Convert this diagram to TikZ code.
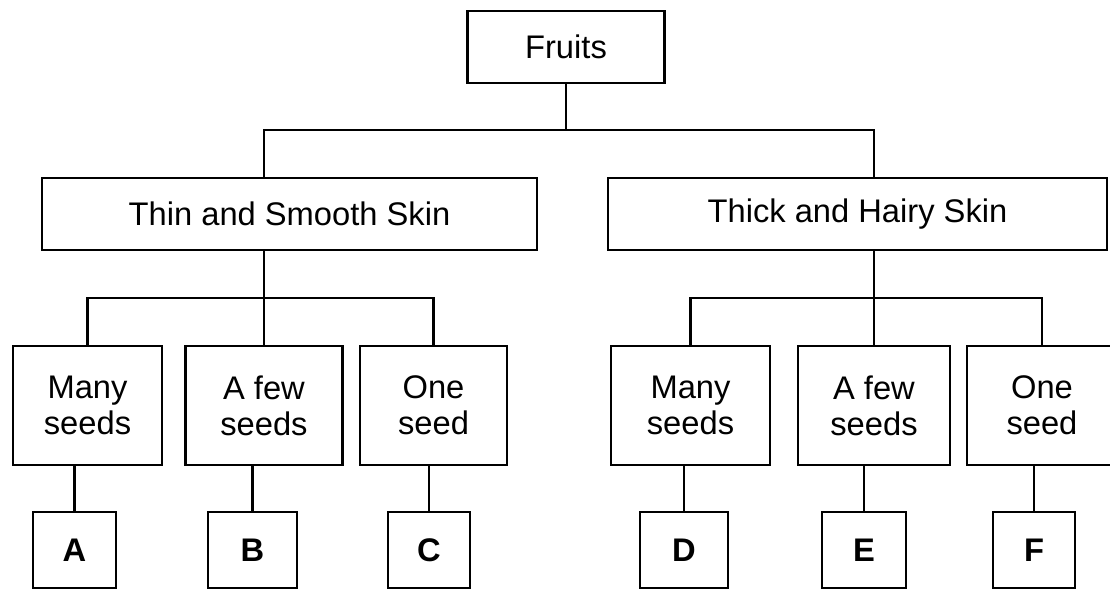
\documentclass[tikz,border=0pt]{standalone}
\usepackage{fontspec}
\setmainfont{Liberation Sans}

\begin{document}
\begin{tikzpicture}[line width=0.7pt, every node/.style={font=\fontsize{9.3}{10.3}\selectfont},
    group/.style={draw, minimum width=#1, minimum height=0.72cm, inner sep=0pt},
    kind/.style={draw, minimum width=#1, minimum height=1.19cm, inner sep=0pt, align=center},
    leaf/.style={draw, minimum width=#1, minimum height=0.76cm, inner sep=0pt, font=\fontsize{9.3}{10.3}\selectfont\bfseries}]
  \useasboundingbox (0,0) rectangle (11.10,5.98);

  % root and skin types
  \node[group=1.97cm] (fruits) at (5.66,5.51) {Fruits};
  \node[group=4.95cm] (thin) at (2.895,3.84) {Thin and Smooth Skin};
  \node[group=4.99cm] (thick) at (8.575,3.84) {Thick and Hairy Skin};

  % number of seeds
  \node[kind=1.49cm] (many1) at (0.875,1.925) {Many\\seeds};
  \node[kind=1.57cm] (few1) at (2.64,1.925) {A few\\seeds};
  \node[kind=1.47cm] (one1) at (4.335,1.925) {One\\seed};
  \node[kind=1.59cm] (many2) at (6.905,1.925) {Many\\seeds};
  \node[kind=1.52cm] (few2) at (8.74,1.925) {A few\\seeds};
  \node[kind=1.50cm] (one2) at (10.42,1.925) {One\\seed};

  % fruit letters
  \node[leaf=0.83cm] (a) at (0.745,0.48) {A};
  \node[leaf=0.89cm] (b) at (2.525,0.48) {B};
  \node[leaf=0.82cm] (c) at (4.29,0.48) {C};
  \node[leaf=0.88cm] (d) at (6.84,0.48) {D};
  \node[leaf=0.84cm] (e) at (8.64,0.48) {E};
  \node[leaf=0.82cm] (f) at (10.34,0.48) {F};

  % first fork
  \coordinate (fork) at (5.66,4.68);
  \draw (fruits) -- (fork);
  \draw (few1 |- thin.north) |- (fork) -| (few2 |- thick.north);

  % second forks
  \coordinate (lvl) at (0,3.00);
  \draw (many1.north) -- (many1.north |- lvl) -- (one1.north |- lvl) -- (one1.north);
  \draw (thin.south -| few1) -- (few1.north);
  \draw (many2.north) -- (many2.north |- lvl) -- (one2.north |- lvl) -- (one2.north);
  \draw (thick.south -| few2) -- (few2.north);

  % down to the letters
  \draw (a.north) -- (a.north |- many1.south);
  \draw (b.north) -- (b.north |- few1.south);
  \draw (c.north) -- (c.north |- one1.south);
  \draw (d.north) -- (d.north |- many2.south);
  \draw (e.north) -- (e.north |- few2.south);
  \draw (f.north) -- (f.north |- one2.south);
\end{tikzpicture}
\end{document}
